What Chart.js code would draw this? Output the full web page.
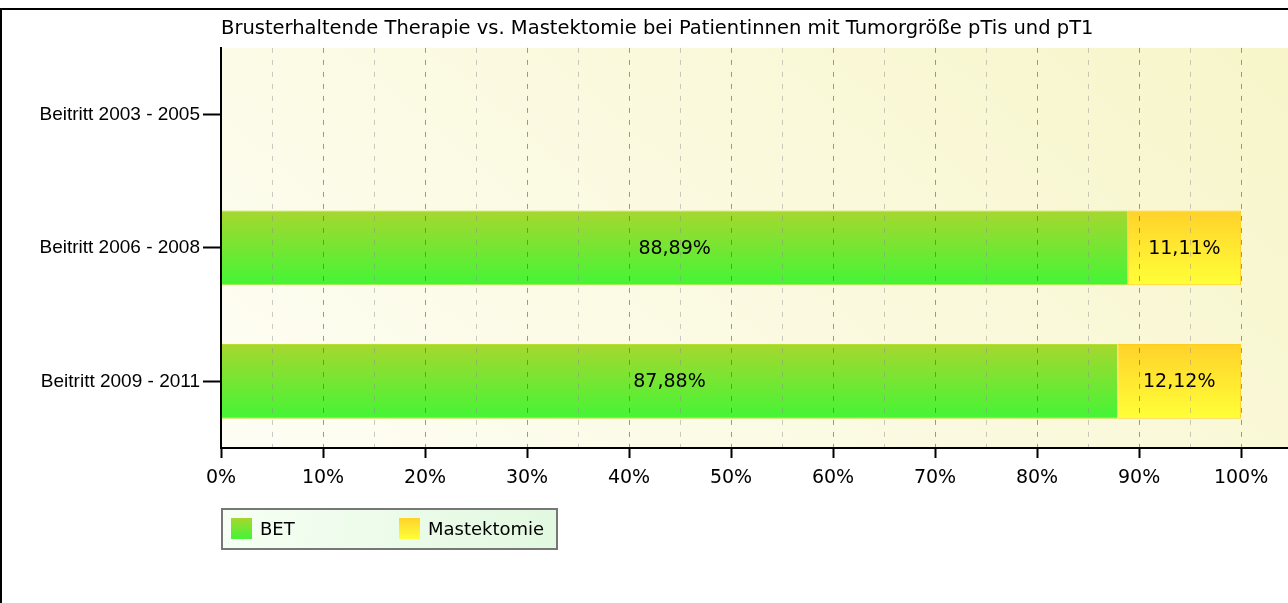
<!DOCTYPE html>
<html>
<head>
<meta charset="utf-8">
<script src="https://cdn.jsdelivr.net/npm/chart.js@4"></script>
<style>
  body { margin: 0; background: #fff; overflow: hidden; }
  #frame { position: absolute; left: 0; top: 8px; width: 1400px; height: 700px; border: 2px solid #000; box-sizing: border-box; }
  #grafico { position: absolute; left: 0; top: 0; }
</style>
</head>
<body>
<div id="frame"></div>
<canvas id="grafico" width="1288" height="603"></canvas>
<script>
// Daten
var kategorien = ['Beitritt 2003 - 2005', 'Beitritt 2006 - 2008', 'Beitritt 2009 - 2011'];
var bet = [null, 88.89, 87.88];
var mastektomie = [null, 11.11, 12.12];
var serienNamen = ['BET', 'Mastektomie'];
var titel = 'Brusterhaltende Therapie vs. Mastektomie bei Patientinnen mit Tumorgröße pTis und pT1';

var schrift = 'DejaVu Sans';

function balkenVerlauf(oben, unten) {
    return function (c) {
        var chart = c.chart;
        if (!chart.chartArea) return unten;
        var y = chart.scales.y.getPixelForValue(c.dataIndex);
        var g = chart.ctx.createLinearGradient(0, y - 37, 0, y + 37);
        g.addColorStop(0, oben);
        g.addColorStop(1, unten);
        return g;
    };
}

// Hintergrund der Zeichenfläche
var hintergrund = {
    id: 'hintergrund',
    beforeDraw: function (chart) {
        var a = chart.chartArea, ctx = chart.ctx;
        var g = ctx.createLinearGradient(a.left + 100, a.bottom + 300, a.right - 100, a.top - 300);
        g.addColorStop(0, '#fffffc');
        g.addColorStop(1, '#f6f4c2');
        ctx.save();
        ctx.fillStyle = g;
        ctx.fillRect(a.left, a.top, a.right - a.left, a.bottom - a.top);
        ctx.restore();
    }
};

// Beschriftung in den Balken + Legende mit Rahmen
var beschriftung = {
    id: 'beschriftung',
    afterDatasetsDraw: function (chart) {
        var ctx = chart.ctx;
        ctx.save();
        ctx.font = '19px "' + schrift + '"';
        ctx.fillStyle = '#000';
        ctx.textAlign = 'center';
        ctx.textBaseline = 'middle';
        chart.data.datasets.forEach(function (ds, i) {
            chart.getDatasetMeta(i).data.forEach(function (bar, j) {
                if (ds.data[j] == null) return;
                var txt = ds.data[j].toFixed(2).replace('.', ',') + '%';
                ctx.fillText(txt, (bar.x + bar.base) / 2, bar.y + 1);
            });
        });
        ctx.restore();
    },
    afterDraw: function (chart) {
        var ctx = chart.ctx;
        var x = chart.chartArea.left, y = 508, w = 337, h = 42;
        ctx.save();
        var g = ctx.createLinearGradient(x, y, x + w, y + h);
        g.addColorStop(0, '#f6fff4');
        g.addColorStop(1, '#e2f8e0');
        ctx.fillStyle = g;
        ctx.fillRect(x, y, w, h);
        ctx.strokeStyle = '#777';
        ctx.lineWidth = 2;
        ctx.strokeRect(x + 1, y + 1, w - 2, h - 2);
        var farben = [['#a6d72f', '#44f536'], ['#ffd22a', '#ffff38']];
        var pos = [[231, 260], [399, 428]];
        ctx.font = '18px "' + schrift + '"';
        ctx.textBaseline = 'middle';
        serienNamen.forEach(function (n, i) {
            var sg = ctx.createLinearGradient(0, y + 10, 0, y + 31);
            sg.addColorStop(0, farben[i][0]);
            sg.addColorStop(1, farben[i][1]);
            ctx.fillStyle = sg;
            ctx.fillRect(pos[i][0], y + 10, 21, 21);
            ctx.fillStyle = '#000';
            ctx.fillText(n, pos[i][1], y + 22);
        });
        ctx.restore();
    }
};

var ctx = document.getElementById('grafico').getContext('2d');
var grafico = new Chart(ctx, {
    type: 'bar',
    data: {
        labels: kategorien,
        datasets: [{
            label: serienNamen[0],
            data: bet,
            backgroundColor: balkenVerlauf('#a6d72f', '#44f536'),
            borderColor: '#b5e030',
            borderWidth: {top: 1, bottom: 1, left: 0, right: 0},
            borderSkipped: false
        }, {
            label: serienNamen[1],
            data: mastektomie,
            backgroundColor: balkenVerlauf('#ffd22a', '#ffff38'),
            borderColor: '#ffcf1a',
            borderWidth: 1,
            borderSkipped: false
        }]
    },
    options: {
        indexAxis: 'y',
        responsive: false,
        animation: false,
        layout: { padding: 0 },
        datasets: { bar: { categoryPercentage: 1, barPercentage: 0.56 } },
        plugins: {
            legend: { display: false },
            tooltip: { enabled: false },
            title: {
                display: true,
                text: titel,
                align: 'start',
                fullSize: false,
                color: '#000',
                font: { family: schrift, size: 19.5, weight: 'normal' },
                padding: { top: 17, bottom: 7.5 }
            }
        },
        scales: {
            x: {
                stacked: true,
                min: 0,
                max: 104.6,
                afterFit: function (s) { s.height = 155; },
                ticks: {
                    stepSize: 5,
                    includeBounds: false,
                    autoSkip: false,
                    maxRotation: 0,
                    color: '#000',
                    padding: 9,
                    font: { family: schrift, size: 19 },
                    callback: function (v) { return v % 10 === 0 ? v + '%' : ''; }
                },
                grid: {
                    z: 1,
                    color: function (c) { return c.tick && c.tick.value % 10 === 0 ? 'rgba(100,100,100,0.65)' : 'rgba(140,140,140,0.45)'; },
                    tickColor: function (c) { return c.tick && c.tick.value % 10 === 0 ? '#000' : 'rgba(0,0,0,0)'; },
                    tickLength: 10,
                    tickWidth: 2,
                    lineWidth: 1
                },
                border: { color: '#000', width: 2, dash: [5, 7], z: 2 }
            },
            y: {
                stacked: true,
                afterFit: function (s) { s.width = 221; },
                ticks: {
                    color: '#000',
                    padding: 3,
                    font: { family: 'Liberation Sans', size: 19 }
                },
                grid: {
                    offset: false,
                    drawOnChartArea: false,
                    color: '#000',
                    tickLength: 18,
                    tickWidth: 2
                },
                border: { color: '#000', width: 2, z: 2 }
            }
        }
    },
    plugins: [hintergrund, beschriftung]
});
</script>
</body>
</html>
